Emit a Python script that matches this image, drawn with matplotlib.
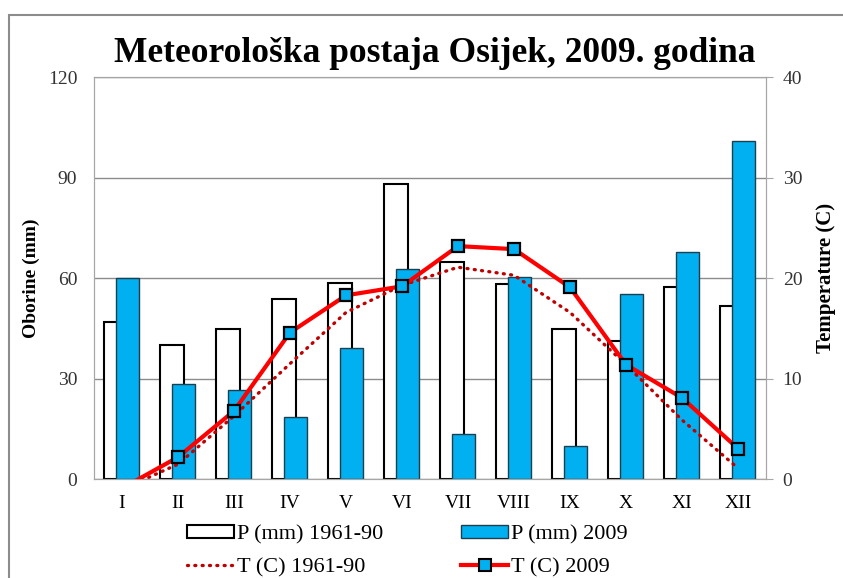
import matplotlib
matplotlib.use('Agg')
import numpy as np
import matplotlib.pyplot as plt
from matplotlib.patches import Rectangle
from matplotlib.lines import Line2D

plt.rcParams['font.family'] = ['Liberation Serif', 'DejaVu Serif']

months = ['I', 'II', 'III', 'IV', 'V', 'VI', 'VII', 'VIII', 'IX', 'X', 'XI', 'XII']
p_1961_90 = [47.0, 40.2, 44.8, 53.8, 58.5, 88.1, 64.8, 58.4, 44.8, 41.2, 57.4, 51.7]
p_2009 = [60.2, 28.5, 26.6, 18.6, 39.3, 62.7, 13.6, 60.5, 9.9, 55.3, 67.9, 100.9]
t_1961_90 = [-1.0, 1.5, 6.3, 11.5, 16.6, 19.3, 21.1, 20.3, 16.6, 11.4, 5.9, 1.1]
t_2009 = [-0.9, 2.2, 6.8, 14.6, 18.3, 19.2, 23.2, 22.9, 19.1, 11.4, 8.1, 3.05]

BLUE = '#00B0F0'
GRID = '#8c8c8c'
DOTS = (0, (0.3, 1.9))
x = np.arange(len(months))

fig = plt.figure(figsize=(8.43, 5.78), dpi=100)
ax = fig.add_axes([0.1115, 0.1708, 0.7972, 0.6955])
ax2 = ax.twinx()

# precipitation bars (overlapping)
ax.bar(x - 0.105, p_1961_90, width=0.43, color='white', edgecolor='black', linewidth=1.5, zorder=2)
ax.bar(x + 0.10, p_2009, width=0.42, color=BLUE, edgecolor='#1f3f4f', linewidth=1.0, zorder=3)

ax.set_xlim(-0.5, 11.5)
ax.set_ylim(0, 120)
ax.set_yticks([0, 30, 60, 90, 120])
ax.set_xticks(x)
ax.set_xticklabels(months)
ax.yaxis.grid(True, color=GRID, linewidth=1.0, zorder=0)
ax.set_axisbelow(True)
ax.tick_params(axis='y', length=0, labelsize=14, pad=12, colors='#333333')
ax.tick_params(axis='x', length=0, labelsize=14, pad=11)
for sp in ax.spines.values():
    sp.set_color('#a6a6a6')
ax.set_ylabel('Oborine (mm)', fontsize=14, fontweight='bold')
ax.yaxis.set_label_coords(-0.080, 0.5)

# temperature lines
ax2.plot(x, t_1961_90, color='#C00000', linewidth=2.4, linestyle=DOTS,
         dash_capstyle='round', zorder=4)
ax2.plot(x, t_2009, color='#FF0000', linewidth=3, marker='s', markersize=8.5,
         markerfacecolor=BLUE, markeredgecolor='black', markeredgewidth=1.6, zorder=5)
ax2.set_ylim(0, 40)
ax2.set_yticks([0, 10, 20, 30, 40])
ax2.tick_params(axis='y', length=5, labelsize=14, pad=7, colors='#333333')
ax2.tick_params(axis='y', color='#a6a6a6')
for sp in ax2.spines.values():
    sp.set_color('#a6a6a6')
ax2.set_ylabel('Temperature (C)', fontsize=15, fontweight='bold')
ax2.yaxis.set_label_coords(1.075, 0.5)

fig.text(0.516, 0.908, 'Meteorološka postaja Osijek, 2009. godina', ha='center', va='center',
         fontsize=25.5, fontweight='bold')

# legend
handles = [
    Rectangle((0, 0), 1, 1, facecolor='white', edgecolor='black', linewidth=1.5),
    Line2D([], [], color='#C00000', linewidth=2.4, linestyle=DOTS, dash_capstyle='round'),
    Rectangle((0, 0), 1, 1, facecolor=BLUE, edgecolor='#1f3f4f', linewidth=1.0),
    Line2D([], [], color='#FF0000', linewidth=3, marker='s', markersize=8,
           markerfacecolor=BLUE, markeredgecolor='black', markeredgewidth=1.5),
]
labels = ['P (mm) 1961-90', 'T (C) 1961-90', 'P (mm) 2009', 'T (C) 2009']
fig.legend(handles, labels, ncol=2, loc='center', bbox_to_anchor=(0.4834, 0.047),
           frameon=False, fontsize=16, handlelength=2.1, handleheight=0.55,
           handletextpad=0.15, columnspacing=3.5, labelspacing=0.6)

# outer chart border
fig.add_artist(Rectangle((9 / 843, -0.05), 1.2, 1 - 15 / 578 + 0.05, transform=fig.transFigure,
                         fill=False, edgecolor='#8c8c8c', linewidth=1.5))

fig.savefig('out.png', dpi=100)
